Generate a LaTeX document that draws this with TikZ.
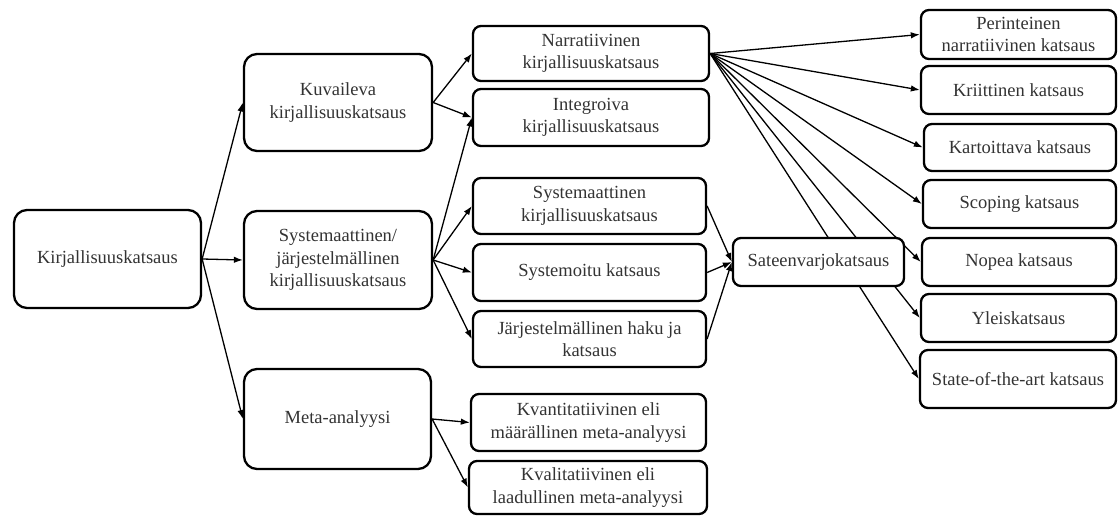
\documentclass[tikz,border=0pt]{standalone}
\usepackage{fontspec}
\setmainfont{Liberation Serif}
\usetikzlibrary{arrows.meta}
\pgfdeclarelayer{background}
\pgfsetlayers{background,main}
\tikzset{
  box/.style={draw=black, fill=white, line width=2.3pt, rounded corners=8pt,
    align=center, inner sep=2pt, text=black!80,
    font=\fontsize{18.5}{22.5}\selectfont},
  bigbox/.style={box, rounded corners=13pt},
  link/.style={line width=1.3pt, -{Latex[length=9pt,width=6.5pt]}},
}
\begin{document}
\begin{tikzpicture}[x=1pt,y=-1pt]
\useasboundingbox (0,0) rectangle (1119,517);

% first level
\node[bigbox, minimum width=187pt, minimum height=98pt] (kirj) at (107.5,259) {Kirjallisuuskatsaus};

% second level
\node[bigbox, minimum width=188pt, minimum height=97pt] (kuv) at (338,102.5) {Kuvaileva\\kirjallisuuskatsaus};
\node[bigbox, minimum width=188pt, minimum height=98pt] (sys) at (338,260) {Systemaattinen/\\järjestelmällinen\\kirjallisuuskatsaus};
\node[bigbox, minimum width=187pt, minimum height=100pt] (meta) at (337.5,419) {Meta-analyysi};

% third level
\node[box, minimum width=236pt, minimum height=55pt] (narr) at (591,53.5) {Narratiivinen\\kirjallisuuskatsaus};
\node[box, minimum width=236pt, minimum height=57pt] (integ) at (591,117.5) {Integroiva\\kirjallisuuskatsaus};
\node[box, minimum width=233pt, minimum height=56pt] (syskir) at (589.5,206) {Systemaattinen\\kirjallisuuskatsaus};
\node[box, minimum width=233pt, minimum height=57pt] (systemoitu) at (589.5,272.5) {Systemoitu katsaus};
\node[box, minimum width=233pt, minimum height=56pt] (jarj) at (589.5,339) {Järjestelmällinen haku ja\\katsaus};
\node[box, minimum width=235pt, minimum height=57pt] (kvant) at (588.5,422.5) {Kvantitatiivinen eli\\määrällinen meta-analyysi};
\node[box, minimum width=238pt, minimum height=53pt] (kval) at (588,487.5) {Kvalitatiivinen eli\\laadullinen meta-analyysi};

% umbrella review
\node[box, minimum width=171pt, minimum height=48pt] (sateen) at (818.5,262) {Sateenvarjokatsaus};

% narrative review types
\node[box, minimum width=195pt, minimum height=49pt] (per) at (1018.5,34.5) {Perinteinen\\narratiivinen katsaus};
\node[box, minimum width=195pt, minimum height=48pt] (krii) at (1018.5,90) {Kriittinen katsaus};
\node[box, minimum width=192pt, minimum height=47pt] (kart) at (1020,147.5) {Kartoittava katsaus};
\node[box, minimum width=193pt, minimum height=48pt] (scop) at (1019.5,204) {Scoping katsaus};
\node[box, minimum width=194pt, minimum height=48pt] (nopea) at (1019,262) {Nopea katsaus};
\node[box, minimum width=195pt, minimum height=48pt] (yleis) at (1018.5,318) {Yleiskatsaus};
\node[box, minimum width=196pt, minimum height=58pt] (state) at (1018,379) {State-of-the-art katsaus};

\begin{pgfonlayer}{background}
  \draw[link] (kirj.east) -- (kuv.west);
  \draw[link] (kirj.east) -- (sys.west);
  \draw[link] (kirj.east) -- (meta.west);

  \draw[link] (kuv.east) -- (narr.west);
  \draw[link] (kuv.east) -- (integ.west);
  \draw[link] (sys.east) -- (integ.west);
  \draw[link] (sys.east) -- (syskir.west);
  \draw[link] (sys.east) -- (systemoitu.west);
  \draw[link] (sys.east) -- (jarj.west);
  \draw[link] (meta.east) -- (kvant.west);
  \draw[link] (meta.east) -- (kval.west);

  \draw[link] (syskir.east) -- (sateen.west);
  \draw[link] (systemoitu.east) -- (sateen.west);
  \draw[link] (jarj.east) -- (sateen.west);

  \foreach \t in {per,krii,kart,scop,nopea,yleis,state}
    \draw[link] (narr.east) -- (\t.west);
\end{pgfonlayer}
\end{tikzpicture}
\end{document}
